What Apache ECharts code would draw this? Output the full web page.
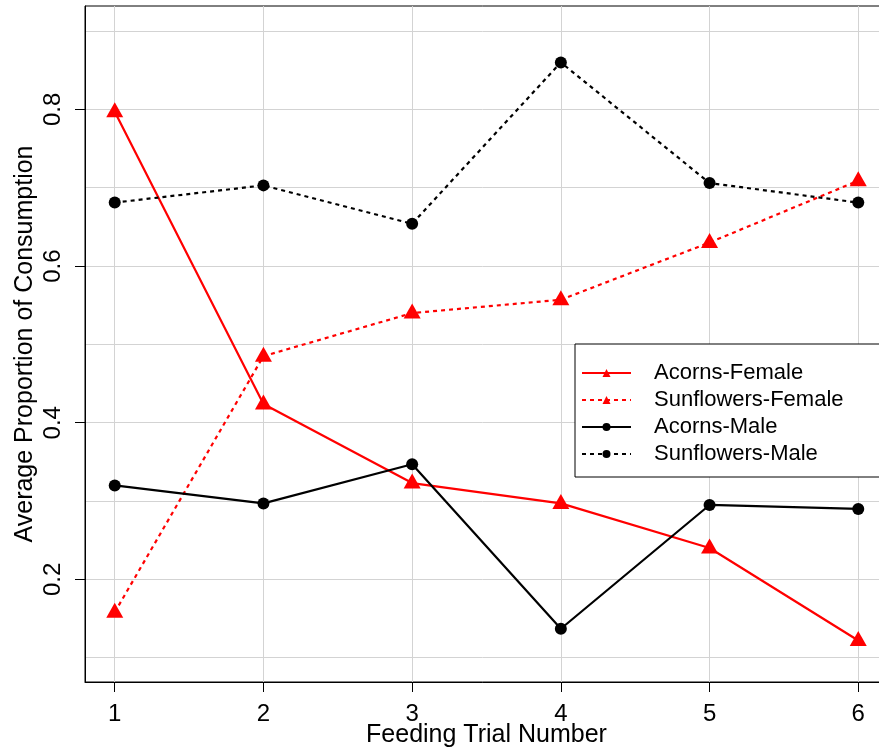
<!DOCTYPE html>
<html>
<head>
<meta charset="utf-8">
<title>Average Proportion of Consumption by Feeding Trial</title>
<script src="https://cdn.jsdelivr.net/npm/echarts@6/dist/echarts.min.js"></script>
<style>
  html, body { margin: 0; padding: 0; background: #fff; }
  #chart { width: 879px; height: 752px; }
</style>
</head>
<body>
<div id="chart"></div>
<script>
// Feeding trials (x) and average proportion consumed per group (y)
const trials = [1, 2, 3, 4, 5, 6];
const acornsFemale     = [0.797, 0.424, 0.323, 0.297, 0.240, 0.122];
const sunflowersFemale = [0.158, 0.485, 0.540, 0.557, 0.630, 0.709];
const acornsMale       = [0.320, 0.297, 0.347, 0.137, 0.295, 0.290];
const sunflowersMale   = [0.681, 0.703, 0.654, 0.860, 0.706, 0.681];

// Axis ticks
const yTickLabels = [0.2, 0.4, 0.6, 0.8];
const yGridValues = [0.1, 0.2, 0.3, 0.4, 0.5, 0.6, 0.7, 0.8, 0.9];

const FONT = '"Liberation Sans", Arial, Helvetica, sans-serif';
const RED = '#ff0000';
const BLACK = '#000000';
const GRID_GREY = '#d3d3d3';

function pairs(ys) {
  return trials.map((t, i) => [t, ys[i]]);
}

function lineSeries(name, ys, color, dotted, symbol) {
  const tri = symbol === 'triangle';
  return {
    name: name,
    type: 'line',
    data: pairs(ys),
    symbol: symbol,
    symbolSize: tri ? [17, 15] : 12,
    symbolOffset: tri ? [0, -2] : [0, 0],
    showSymbol: true,
    animation: false,
    lineStyle: { color: color, width: 2.2, type: dotted ? [4, 4] : 'solid' },
    itemStyle: { color: color, borderWidth: 0 },
    emphasis: { disabled: true },
    z: 3
  };
}

const chart = echarts.init(document.getElementById('chart'), null, { renderer: 'canvas' });

chart.setOption({
  backgroundColor: '#ffffff',
  animation: false,
  textStyle: { fontFamily: FONT, color: '#000' },
  grid: {
    left: 85, top: 6, width: 803, height: 676,
    outerBoundsMode: 'none',
    containLabel: false,
    show: true, borderColor: BLACK, borderWidth: 1, backgroundColor: 'transparent'
  },
  xAxis: {
    type: 'value',
    min: 0.8, max: 6.2,
    name: 'Feeding Trial Number',
    nameLocation: 'middle',
    nameGap: 41,
    nameMoveOverlap: false,
    nameTextStyle: { fontSize: 25, fontFamily: FONT, color: '#000' },
    axisLine: { show: true, onZero: false, lineStyle: { color: BLACK, width: 1 } },
    axisTick: { show: true, inside: false, length: 10, customValues: trials, lineStyle: { color: BLACK } },
    axisLabel: { customValues: trials, fontSize: 24, margin: 20, color: '#000', fontFamily: FONT },
    splitLine: { show: true, lineStyle: { color: GRID_GREY, width: 1 } }
  },
  yAxis: [
    {
      type: 'value',
      min: 0.069, max: 0.932,
      name: 'Average Proportion of Consumption',
      nameLocation: 'middle',
      nameRotate: 90,
      nameGap: 47,
      nameMoveOverlap: false,
      nameTextStyle: { fontSize: 25, fontFamily: FONT, color: '#000' },
      axisLine: { show: true, onZero: false, lineStyle: { color: BLACK, width: 1 } },
      axisTick: { show: true, inside: false, length: 10, customValues: yTickLabels, lineStyle: { color: BLACK } },
      axisLabel: {
        customValues: yTickLabels, fontSize: 24, margin: 20, rotate: 90,
        color: '#000', fontFamily: FONT,
        formatter: v => v.toFixed(1)
      },
      splitLine: { show: false }
    },
    {
      // grid lines only, every 0.1
      type: 'value',
      min: 0.069, max: 0.932,
      position: 'left',
      axisLine: { show: false },
      axisTick: { show: false, customValues: yGridValues },
      axisLabel: { show: false },
      splitLine: { show: true, lineStyle: { color: GRID_GREY, width: 1 } }
    }
  ],
  legend: {
    orient: 'vertical',
    left: 575, top: 344,
    itemWidth: 49, itemHeight: 10,
    itemGap: 5,
    padding: [18, 40, 12, 6],
    backgroundColor: '#ffffff',
    borderColor: BLACK, borderWidth: 1, borderRadius: 0,
    selectedMode: false,
    textStyle: { fontSize: 22, fontFamily: FONT, color: '#000', padding: [0, 0, 0, 18] },
    data: ['Acorns-Female', 'Sunflowers-Female', 'Acorns-Male', 'Sunflowers-Male'],
    z: 10
  },
  series: [
    lineSeries('Acorns-Female', acornsFemale, RED, false, 'triangle'),
    lineSeries('Sunflowers-Female', sunflowersFemale, RED, true, 'triangle'),
    lineSeries('Acorns-Male', acornsMale, BLACK, false, 'circle'),
    lineSeries('Sunflowers-Male', sunflowersMale, BLACK, true, 'circle')
  ]
});
</script>
</body>
</html>
